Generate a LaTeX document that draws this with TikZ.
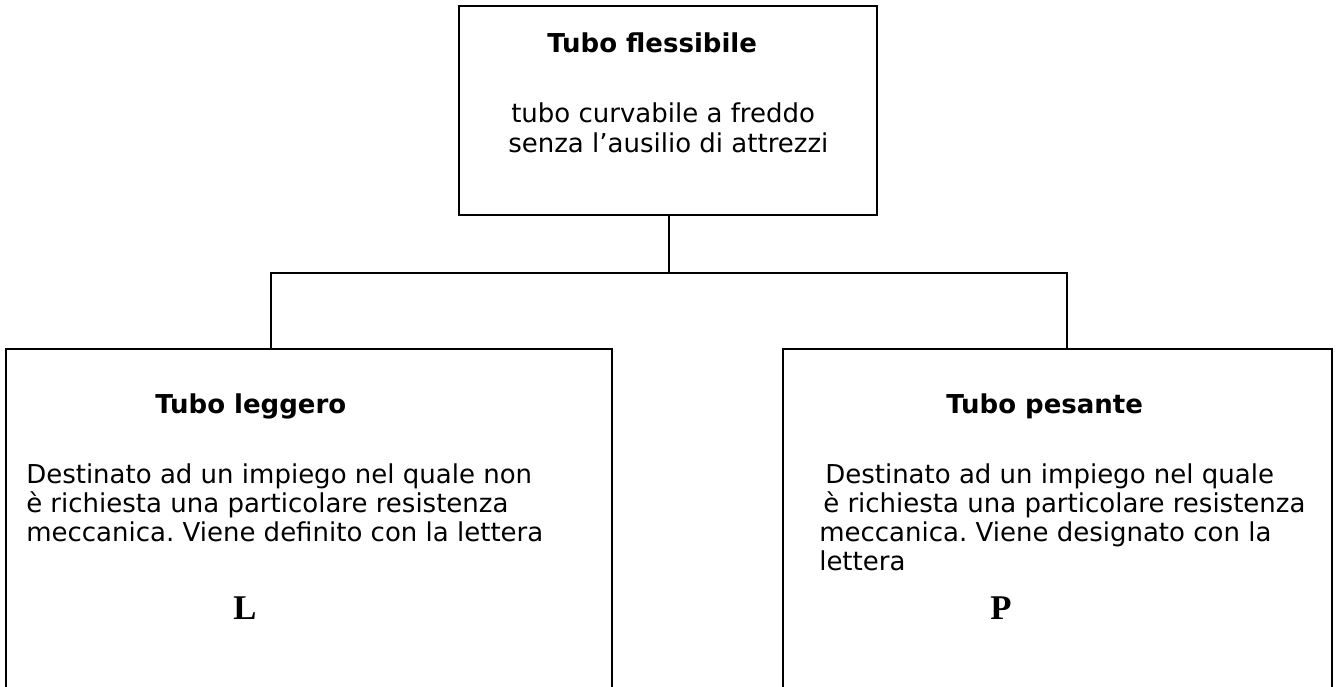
\documentclass[tikz,border=0pt]{standalone}
\usepackage{fontspec}
\setmainfont{DejaVu Sans}
\newfontfamily\tnrfont{Liberation Serif}
\newcommand\bigletter[1]{{\tnrfont\bfseries\fontsize{26pt}{28pt}\selectfont #1}}
\frenchspacing
\begin{document}
\begin{tikzpicture}[x=0.75pt,y=-0.75pt,
  box/.style={draw=black,line width=2.2pt,rectangle,inner sep=0pt},
  wire/.style={draw=black,line width=2.2pt},
  txt/.style={anchor=base west,inner sep=0pt,font=\fontsize{19.5pt}{22.5pt}\selectfont},
  ttl/.style={txt,font=\fontsize{19.5pt}{22.5pt}\selectfont\bfseries},
  lettercell/.style={anchor=base west,inner sep=0pt}]
\useasboundingbox (0,0) rectangle (1336,686);
\clip (0,0) rectangle (1336,686);
\fill[white] (0,0) rectangle (1336,686);
% boxes
\node[box,minimum width=313.5pt,minimum height=156.75pt] (top) at (668,110.5) {};
\node[box,minimum width=454.5pt,minimum height=278.25pt] (left) at (309,534.5) {};
\node[box,minimum width=411.75pt,minimum height=278.25pt] (right) at (1057.5,534.5) {};
% connectors
\coordinate (jl) at (271,273);
\coordinate (jr) at (1067,273);
\coordinate (jm) at (669,273);
\draw[wire] (top.south -| jm) -- (jm);
\draw[wire,line cap=rect] (jl) -- (jr);
\draw[wire] (jl) -- (jl |- left.north);
\draw[wire] (jr) -- (jr |- right.north);
% top texts
\node[ttl] (t0) at (547,52) {Tubo flessibile};
\node[txt] (t1) at (511,122) {tubo curvabile a freddo};
\node[txt] (t2) at (508,152) {senza l’ausilio di attrezzi};
% left texts
\node[ttl] (l0) at (155,413) {Tubo leggero};
\node[txt] (l1) at (26,483) {Destinato ad un impiego nel quale non};
\node[txt] (l2) at (26,512) {è richiesta una particolare resistenza};
\node[txt] (l3) at (26,541) {meccanica. Viene definito con la lettera};
\node[lettercell] (lL) at (233,619) {\bigletter{L}};
% right texts
\node[ttl] (r0) at (946,413) {Tubo pesante};
\node[txt] (r1) at (825,483) {Destinato ad un impiego nel quale};
\node[txt] (r2) at (823,512) {è richiesta una particolare resistenza};
\node[txt] (r3) at (819,541) {meccanica. Viene designato con la};
\node[txt] (r4) at (819,570) {lettera};
\node[lettercell] (rP) at (990,619) {\bigletter{P}};
\end{tikzpicture}
\end{document}
